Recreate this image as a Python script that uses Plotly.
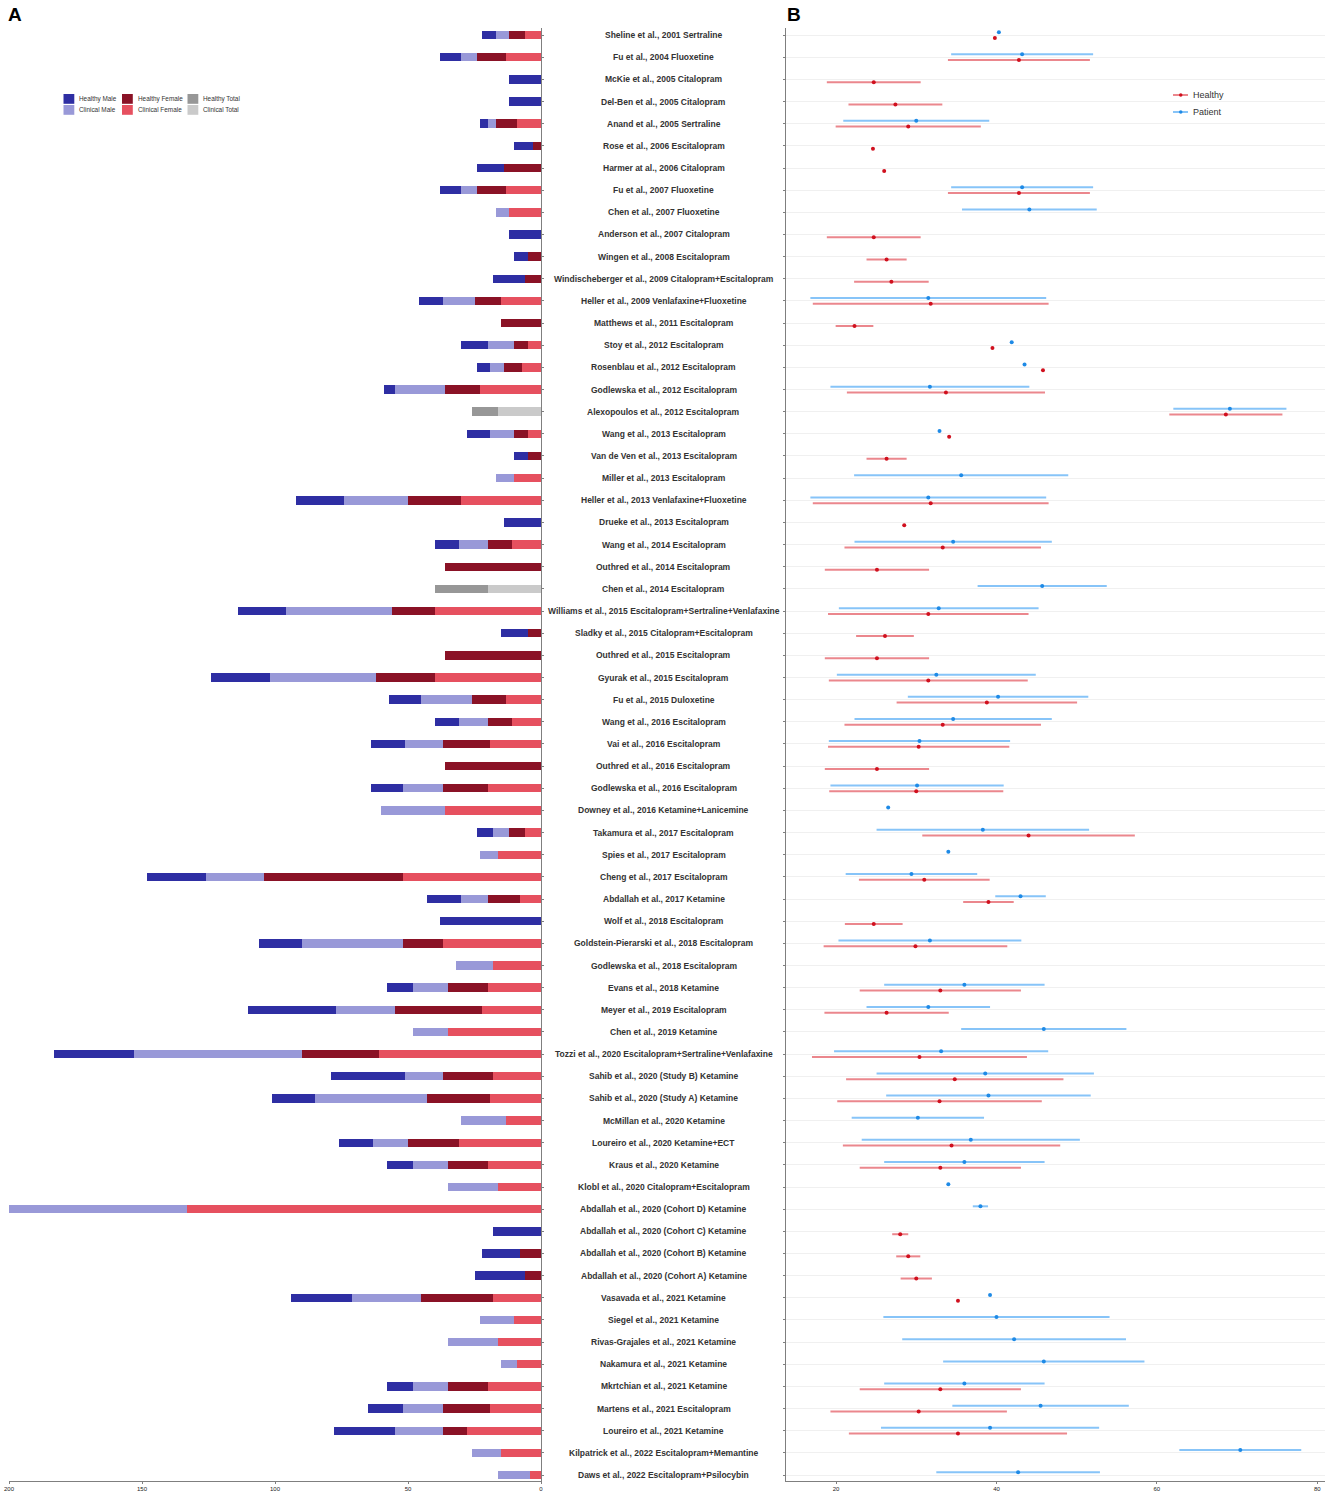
import plotly.graph_objects as go

studies = [
    "Sheline et al., 2001 Sertraline", "Fu et al., 2004 Fluoxetine", "McKie et al., 2005 Citalopram",
    "Del-Ben et al., 2005 Citalopram", "Anand et al., 2005 Sertraline", "Rose et al., 2006 Escitalopram",
    "Harmer at al., 2006 Citalopram", "Fu et al., 2007 Fluoxetine", "Chen et al., 2007 Fluoxetine",
    "Anderson et al., 2007 Citalopram", "Wingen et al., 2008 Escitalopram",
    "Windischeberger et al., 2009 Citalopram+Escitalopram", "Heller et al., 2009 Venlafaxine+Fluoxetine",
    "Matthews et al., 2011 Escitalopram", "Stoy et al., 2012 Escitalopram", "Rosenblau et al., 2012 Escitalopram",
    "Godlewska et al., 2012 Escitalopram", "Alexopoulos et al., 2012 Escitalopram", "Wang et al., 2013 Escitalopram",
    "Van de Ven et al., 2013 Escitalopram", "Miller et al., 2013 Escitalopram",
    "Heller et al., 2013 Venlafaxine+Fluoxetine", "Drueke et al., 2013 Escitalopram",
    "Wang et al., 2014 Escitalopram", "Outhred et al., 2014 Escitalopram", "Chen et al., 2014 Escitalopram",
    "Williams et al., 2015 Escitalopram+Sertraline+Venlafaxine", "Sladky et al., 2015 Citalopram+Escitalopram",
    "Outhred et al., 2015 Escitalopram", "Gyurak et al., 2015 Escitalopram", "Fu et al., 2015 Duloxetine",
    "Wang et al., 2016 Escitalopram", "Vai et al., 2016 Escitalopram", "Outhred et al., 2016 Escitalopram",
    "Godlewska et al., 2016 Escitalopram", "Downey et al., 2016 Ketamine+Lanicemine",
    "Takamura et al., 2017 Escitalopram", "Spies et al., 2017 Escitalopram", "Cheng et al., 2017 Escitalopram",
    "Abdallah et al., 2017 Ketamine", "Wolf et al., 2018 Escitalopram",
    "Goldstein-Pierarski et al., 2018 Escitalopram", "Godlewska et al., 2018 Escitalopram",
    "Evans et al., 2018 Ketamine", "Meyer et al., 2019 Escitalopram", "Chen et al., 2019 Ketamine",
    "Tozzi et al., 2020 Escitalopram+Sertraline+Venlafaxine", "Sahib et al., 2020 (Study B) Ketamine",
    "Sahib et al., 2020 (Study A) Ketamine", "McMillan et al., 2020 Ketamine", "Loureiro et al., 2020 Ketamine+ECT",
    "Kraus et al., 2020 Ketamine", "Klobl et al., 2020 Citalopram+Escitalopram",
    "Abdallah et al., 2020 (Cohort D) Ketamine", "Abdallah et al., 2020 (Cohort C) Ketamine",
    "Abdallah et al., 2020 (Cohort B) Ketamine", "Abdallah et al., 2020 (Cohort A) Ketamine",
    "Vasavada et al., 2021 Ketamine", "Siegel et al., 2021 Ketamine", "Rivas-Grajales et al., 2021 Ketamine",
    "Nakamura et al., 2021 Ketamine", "Mkrtchian et al., 2021 Ketamine", "Martens et al., 2021 Escitalopram",
    "Loureiro et al., 2021 Ketamine", "Kilpatrick et al., 2022 Escitalopram+Memantine",
    "Daws et al., 2022 Escitalopram+Psilocybin",
]

N = None
healthy_male = [5, 8, 12, 12, 3, 7, 10, 8, N, 12, 5, 12, 9, N, 10, 5, 4, N, 9, 5, N, 18, 14, 9, N, N, 18, 10, N, 22,
                12, 9, 13, N, 12, N, 6, N, 22, 13, 38, 16, N, 10, 33, N, 30, 28, 16, N, 13, 10, N, N, 18, 14, 19, 23,
                N, N, N, 10, 13, 23, N, N]
clinical_male = [5, 6, N, N, 3, N, N, 6, 5, N, N, N, 12, N, 10, 5, 19, N, 9, N, 7, 24, N, 11, N, N, 40, N, N, 40,
                 19, 11, 14, N, 15, 24, 6, 7, 22, 10, N, 38, 14, 13, 22, 13, 63, 14, 42, 17, 13, 13, 19, 67, N, N, N,
                 26, 13, 19, 6, 13, 15, 18, 11, 12]
healthy_female = [6, 11, N, N, 8, 3, 14, 11, N, N, 5, 6, 10, 15, 5, 7, 13, N, 5, 5, N, 20, N, 9, 36, N, 16, 5, 36,
                  22, 13, 9, 18, 36, 17, N, 6, N, 52, 12, N, 15, N, 15, 33, N, 29, 19, 24, N, 19, 15, N, N, N, 8, 6,
                  27, N, N, N, 15, 18, 9, N, N]
clinical_female = [6, 13, N, N, 9, N, N, 13, 12, N, N, N, 15, N, 5, 7, 23, N, 5, N, 10, 30, N, 11, N, N, 40, N, N,
                   40, 13, 11, 19, N, 20, 36, 6, 16, 52, 8, N, 37, 18, 20, 22, 35, 61, 18, 19, 13, 31, 20, 16, 133,
                   N, N, N, 18, 10, 16, 9, 20, 19, 28, 15, 4]
healthy_total = [N] * 17 + [10] + [N] * 7 + [20] + [N] * 40
clinical_total = [N] * 17 + [16] + [N] * 7 + [20] + [N] * 40

healthy_age_mean = [39.8, 42.8, 24.7, 27.4, 29.0, 24.6, 26.0, 42.8, N, 24.7, 26.3, 26.9, 31.8, 22.3, 39.5, 45.8,
                    33.7, 68.6, 34.1, 26.3, N, 31.8, 28.5, 33.3, 25.1, N, 31.5, 26.1, 25.1, 31.5, 38.8, 33.3, 30.3,
                    25.1, 30.0, N, 44.0, N, 31.0, 39.0, 24.7, 29.9, N, 33.0, 26.3, N, 30.4, 34.8, 32.9, N, 34.4,
                    33.0, N, N, 28.0, 29.0, 30.0, 35.2, N, N, N, 33.0, 30.3, 35.2, N, N]
healthy_age_sd = [0, 8.85, 5.85, 5.85, 9.05, 0, 0, 8.85, N, 5.85, 2.5, 4.65, 14.7, 2.35, 0, 0, 12.35, 7.05, 0, 2.5,
                  N, 14.7, 0, 12.25, 6.5, N, 12.5, 3.6, 6.5, 12.4, 11.25, 12.25, 11.3, 6.5, 10.85, N, 13.25, N, 8.15,
                  3.15, 3.6, 11.45, N, 10.05, 7.75, N, 13.4, 13.55, 12.75, N, 13.55, 10.05, N, N, 1.0, 1.5, 1.95, 0,
                  N, N, N, 10.05, 11.0, 13.6, N, N]
patient_age_mean = [40.3, 43.2, N, N, 30.0, N, N, 43.2, 44.1, N, N, N, 31.5, N, 41.9, 43.5, 31.7, 69.1, 32.9, N,
                    35.6, 31.5, N, 34.6, N, 45.7, 32.8, N, N, 32.5, 40.2, 34.6, 30.4, N, 30.1, 26.5, 38.3, 34.0, 29.4,
                    43.0, N, 31.7, N, 36.0, 31.5, 45.9, 33.1, 38.6, 39.0, 30.2, 36.8, 36.0, 34.0, 38.0, N, N, N, 39.2,
                    40.0, 42.2, 45.9, 36.0, 45.5, 39.2, 70.4, 42.7]
patient_age_sd = [0, 8.85, N, N, 9.1, N, N, 8.85, 8.4, N, N, N, 14.7, N, 0, 0, 12.4, 7.05, 0, N, 13.35, 14.7, N,
                  12.3, N, 8.05, 12.45, N, N, 12.4, 11.25, 12.3, 11.3, N, 10.8, 0, 13.25, 0, 8.2, 3.15, N, 11.4, N,
                  10.0, 7.7, 10.3, 13.35, 13.55, 12.75, 8.25, 13.6, 10.0, 0, 0.95, N, N, N, 0, 14.1, 13.95, 12.55,
                  10.0, 11.0, 13.6, 7.6, 10.2]

count_ticks = [200, 150, 100, 50, 0]
age_ticks = [20, 40, 60, 80]

W, H = 1325, 1492
MT, MB = 28, 11
PH = H - MT - MB


def px(x):
    return x / W


def py(y):
    return 1 - (y - MT) / PH


rows = list(range(len(studies)))
DODGE = 0.13
FONT = "Liberation Sans, Arial, sans-serif"

colors = {
    "Healthy Male": "#2e2ea3", "Healthy Female": "#8a1226", "Healthy Total": "#979797",
    "Clinical Male": "#9999d8", "Clinical Female": "#e6505f", "Clinical Total": "#cacaca",
}
RED_LINE, RED_PT = "rgba(225,70,80,0.65)", "#d0101e"
BLUE_LINE, BLUE_PT = "rgba(70,165,245,0.65)", "#1e8ae6"

fig = go.Figure()

bar_specs = [
    ("Clinical Female", clinical_female),
    ("Healthy Female", healthy_female),
    ("Clinical Male", clinical_male),
    ("Healthy Male", healthy_male),
    ("Clinical Total", clinical_total),
    ("Healthy Total", healthy_total),
]
for name, vals in bar_specs:
    fig.add_trace(go.Bar(
        x=vals, y=rows, orientation="h", name=name, width=0.38, showlegend=False,
        marker=dict(color=colors[name], line=dict(width=0)),
        xaxis="x", yaxis="y",
    ))

fig.add_trace(go.Scatter(
    x=patient_age_mean, y=[r - DODGE for r in rows], mode="markers", name="Patient", showlegend=False,
    marker=dict(size=4, color=BLUE_PT),
    error_x=dict(type="data", array=patient_age_sd, color=BLUE_LINE, thickness=2, width=0),
    xaxis="x2", yaxis="y2",
))
fig.add_trace(go.Scatter(
    x=healthy_age_mean, y=[r + DODGE for r in rows], mode="markers", name="Healthy", showlegend=False,
    marker=dict(size=4, color=RED_PT),
    error_x=dict(type="data", array=healthy_age_sd, color=RED_LINE, thickness=2, width=0),
    xaxis="x2", yaxis="y2",
))

for i, s in enumerate(studies):
    fig.add_annotation(x=0.5008, xref="paper", y=i, yref="y", text="<b>" + s + "</b>", showarrow=False,
                       xanchor="center", yanchor="middle",
                       font=dict(family=FONT, size=8.5, color="#333333"))

# Panel letters
fig.add_annotation(x=px(6), xref="paper", y=py(14), yref="paper", text="<b>A</b>",
                   showarrow=False, xanchor="left", yanchor="middle", font=dict(family=FONT, size=19, color="black"))
fig.add_annotation(x=px(785), xref="paper", y=py(14), yref="paper", text="<b>B</b>",
                   showarrow=False, xanchor="left", yanchor="middle", font=dict(family=FONT, size=19, color="black"))

# Legend for panel A (3 columns x 2 rows)
legend_grid = [["Healthy Male", "Healthy Female", "Healthy Total"],
               ["Clinical Male", "Clinical Female", "Clinical Total"]]
col_x = [63.5, 122, 187.5]
row_y = [(94, 103.8), (105, 114.8)]
shapes = []
for r, names in enumerate(legend_grid):
    y0, y1 = row_y[r]
    for c, name in enumerate(names):
        x0 = col_x[c]
        shapes.append(dict(type="rect", xref="paper", yref="paper", x0=px(x0), x1=px(x0 + 10.8),
                           y0=py(y1), y1=py(y0), fillcolor=colors[name], line=dict(width=0)))
        fig.add_annotation(x=px(x0 + 13.5), xref="paper", y=py((y0 + y1) / 2), yref="paper", text=name,
                           showarrow=False, xanchor="left", yanchor="middle",
                           font=dict(family=FONT, size=6.4, color="#333333"))

# Legend for panel B
for name, lc, pc, yy in [("Healthy", RED_LINE, RED_PT, 95), ("Patient", BLUE_LINE, BLUE_PT, 112)]:
    shapes.append(dict(type="line", xref="paper", yref="paper", x0=px(1173), x1=px(1188),
                       y0=py(yy), y1=py(yy), line=dict(color=lc, width=2)))
    shapes.append(dict(type="circle", xref="paper", yref="paper", x0=px(1179), x1=px(1182.5),
                       y0=py(yy + 1.75), y1=py(yy - 1.75), fillcolor=pc, line=dict(width=0)))
    fig.add_annotation(x=px(1191), xref="paper", y=py(yy), yref="paper", text=name,
                       showarrow=False, xanchor="left", yanchor="middle",
                       font=dict(family=FONT, size=9, color="#333333"))

yrange = [65.27, -0.32]
fig.update_layout(
    width=W, height=H,
    margin=dict(l=0, r=0, t=MT, b=MB),
    paper_bgcolor="white", plot_bgcolor="white",
    barmode="stack", bargap=0, showlegend=False,
    font=dict(family=FONT, size=8, color="#333"),
    shapes=shapes,
    xaxis=dict(domain=[px(9), px(541)], range=[200, 0], tickvals=count_ticks,
               showline=True, linecolor="#7f7f7f", linewidth=1, ticks="outside", ticklen=2,
               tickcolor="#7f7f7f", showgrid=False, zeroline=False, automargin=False,
               tickfont=dict(size=6, color="#222")),
    yaxis=dict(range=yrange, tickvals=rows, showticklabels=False, side="right", anchor="x",
               showline=True, linecolor="#7f7f7f", linewidth=1, ticks="outside", ticklen=2,
               tickcolor="#7f7f7f", showgrid=False, zeroline=False),
    xaxis2=dict(domain=[px(786), 1.0], range=[13.76, 80.96], tickvals=age_ticks, anchor="y2",
                showline=True, linecolor="#7f7f7f", linewidth=1, ticks="outside", ticklen=2,
                tickcolor="#7f7f7f", showgrid=False, zeroline=False, automargin=False,
                tickfont=dict(size=6, color="#222")),
    yaxis2=dict(range=yrange, tickvals=rows, showticklabels=False, anchor="x2",
                showline=True, linecolor="#7f7f7f", linewidth=1, ticks="outside", ticklen=2,
                tickcolor="#7f7f7f", showgrid=True, gridcolor="#f0f0f0", gridwidth=1, zeroline=False),
)

fig.write_html("out.html", config={"displayModeBar": False},
               post_script="document.body.style.margin='0';document.body.style.overflow='hidden';")
